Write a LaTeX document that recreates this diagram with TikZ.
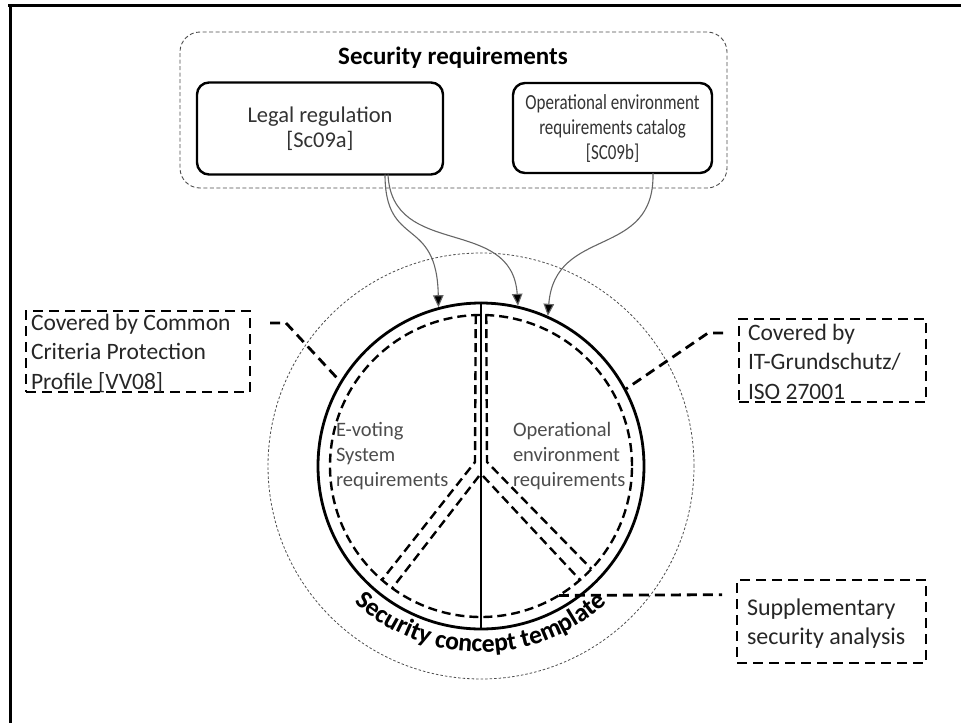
\documentclass[tikz,border=0pt]{standalone}
\usepackage{fontspec}
\setmainfont{Carlito}
\newfontfamily\narrowface{Carlito}[FakeStretch=0.79]
\usetikzlibrary{decorations.text, arrows.meta, calc}

\begin{document}
\begin{tikzpicture}[x=1pt, y=1pt,
  every node/.style={inner sep=0pt, outer sep=0pt},
  srcbox/.style={draw, line width=2.4pt, rounded corners=12pt, align=center, text=black!80},
  callout/.style={draw, line width=2.8pt, dash pattern=on 10pt off 6pt},
  calltext/.style={anchor=north west, align=left,
    font=\fontsize{23.5}{29.5}\selectfont, text=black!85},
  calllink/.style={line width=2.8pt, dash pattern=on 10pt off 6pt},
  sector/.style={line width=2.4pt, dash pattern=on 9pt off 5pt},
  inflow/.style={draw=black!60, line width=1.1pt,
    -{Triangle[length=12pt, width=10.5pt, fill=black]}},
  zonetext/.style={anchor=north west, align=left,
    font=\fontsize{20.5}{25}\selectfont, text=black!70},
]
\useasboundingbox (0,-723) rectangle (961,0);

% page frame (top and left rules)
\draw[line width=3pt] (8,-5) -- (961,-5);
\draw[line width=3pt] (10,-5) -- (10,-723);

% requirement sources
\node[draw=black!70, line width=0.9pt, dash pattern=on 4pt off 2.5pt,
  rounded corners=20pt, minimum width=547pt, minimum height=156pt] (reqs) at (453.5,-110) {};
\node[font=\bfseries\fontsize{25}{29}\selectfont] (title) at (453,-58) {Security requirements};
\node[srcbox, font=\fontsize{22.5}{25.5}\selectfont,
  minimum width=246pt, minimum height=92pt] (legal) at (320,-128.5)
  {Legal regulation\\{[Sc09a]}};
\node[srcbox, font=\narrowface\fontsize{21.5}{25}\selectfont,
  minimum width=199pt, minimum height=90pt] (opcat) at (612.5,-128)
  {Operational environment\\requirements catalog\\{[SC09b]}};

% concept template circles
\coordinate (ctr) at (481,-466);
\node[circle, draw=black!70, line width=0.8pt, dash pattern=on 2.5pt off 2pt,
  minimum size=426pt] (halo) at (ctr) {};
\node[circle, draw, line width=2.8pt, minimum size=326pt, outer sep=1.4pt] (core) at (ctr) {};
\node[circle, draw, sector, minimum size=302pt] (inner) at (ctr) {};
\draw[line width=1.4pt] (core.north) -- (core.south);

% dashed sectors
\draw[sector] (inner.92) -- (475,-462) -- (inner.229);
\draw[sector] (479,-476) -- (inner.234);
\draw[sector] (483,-476) -- (inner.311.5);
\draw[sector] (inner.88) -- (487,-462) -- (inner.317.5);

\node[zonetext] (evote) at (336,-422.4) {E-voting\\System\\requirements};
\node[zonetext] (openv) at (513,-422) {Operational\\environment\\requirements};

% curved caption with shadow
\path[decorate, xshift=1.8pt, yshift=-1.8pt, decoration={text along path, text align=center,
  text={|\color{black!35}\bfseries\fontsize{25.5}{30}\selectfont|Security concept template}}]
  ($(ctr)+(200:186)$) arc[start angle=200, end angle=340, radius=186];
\path[decorate, decoration={text along path, text align=center,
  text={|\bfseries\fontsize{25.5}{30}\selectfont|Security concept template}}]
  ($(ctr)+(200:186)$) arc[start angle=200, end angle=340, radius=186];

% inflows from the sources
\draw[inflow] ([xshift=65pt]legal.south) .. controls +(0,-75) and (437,-215) .. (core.105);
\draw[inflow] ([xshift=68pt]legal.south) .. controls +(4,-85) and (512,-215) .. (core.77);
\draw[inflow] ([xshift=40.5pt]opcat.south) .. controls +(2,-87) and (555,-225) .. (core.66);

% callouts
\node[callout, minimum width=224pt, minimum height=81pt] (ccbox) at (138,-351.5) {};
\node[calltext] (cctext) at (31,-314) {Covered by Common\\Criteria Protection\\Profile [VV08]};
\coordinate (ccl) at (270,-323);
\draw[calllink] (ccl) -- ++(16,0) -- (core.149);

\node[callout, minimum width=187pt, minimum height=83pt] (itbox) at (832.5,-360.5) {};
\node[calltext] (ittext) at (748,-324) {Covered by\\IT-Grundschutz/\\ISO 27001};
\coordinate (itl) at (723,-333);
\draw[calllink] (itl) -- ++(-15,0) -- (core.28);

\node[callout, minimum width=189pt, minimum height=83pt] (suppbox) at (831.5,-621.5) {};
\node[calltext, font=\fontsize{24}{29}\selectfont] (supptext) at (747,-598.7)
  {Supplementary\\security analysis};
\coordinate (suppl) at (722,-594.7);
\draw[calllink] (inner.301.5) -- (suppl);
\end{tikzpicture}
\end{document}
